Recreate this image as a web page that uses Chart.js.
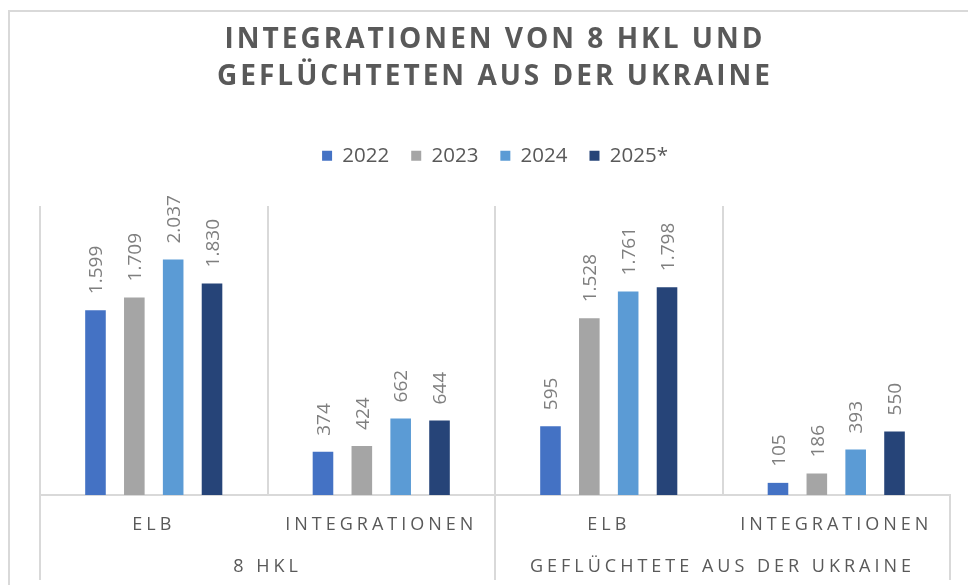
<!DOCTYPE html>
<html><head><meta charset="utf-8">
<script src="https://cdn.jsdelivr.net/npm/chart.js@4.4.1/dist/chart.umd.min.js"></script>
<style>html,body{margin:0;padding:0;background:#fff;} #wrap{width:968px;height:585px;position:relative;}</style>
</head><body><div id="wrap"><canvas id="c"></canvas></div>
<script>
const categories = ['ELB', 'INTEGRATIONEN', 'ELB', 'INTEGRATIONEN'];
const groups = ['8 HKL', 'GEFLÜCHTETE AUS DER UKRAINE'];
const seriesNames = ['2022', '2023', '2024', '2025*'];
const values2022 = [1599, 374, 595, 105];
const values2023 = [1709, 424, 1528, 186];
const values2024 = [2037, 662, 1761, 393];
const values2025 = [1830, 644, 1798, 550];
const titleLines = ['INTEGRATIONEN VON 8 HKL UND', 'GEFLÜCHTETEN AUS DER UKRAINE'];
const seriesColors = ['#4472C4', '#A5A5A5', '#5B9BD5', '#264478'];

const FONT = "'Open Sans', sans-serif";
const TEXT = '#595959';
const LINE = '#d9d9d9';
const fmt = new Intl.NumberFormat('de-DE');

const frame = {
  id: 'frame',
  beforeDraw(chart) {
    const ctx = chart.ctx;
    ctx.save();
    ctx.fillStyle = '#fff';
    ctx.fillRect(0, 0, chart.width, chart.height);
    ctx.strokeStyle = LINE; ctx.lineWidth = 2;
    ctx.beginPath();
    ctx.moveTo(9, chart.height); ctx.lineTo(9, 11); ctx.lineTo(chart.width, 11);
    ctx.stroke();
    ctx.restore();
  }
};

function withSpacing(obj, method, spacing) {
  if (!obj || obj['__sp_' + method]) return;
  const orig = obj[method];
  obj[method] = function () {
    const ctx = this.ctx || this.chart.ctx;
    const prev = ctx.letterSpacing;
    ctx.letterSpacing = spacing;
    try { return orig.apply(this, arguments); } finally { ctx.letterSpacing = prev || '0px'; }
  };
  obj['__sp_' + method] = true;
}

const spacing = {
  id: 'spacing',
  afterInit(chart) {
    const lg = chart.legend;
    if (lg && !lg.__fitPatched) {
      const of = lg.fit;
      lg.fit = function () { of.apply(this, arguments); this.height += 30; };
      lg.__fitPatched = true;
    }
  },
  beforeDraw(chart) {
    withSpacing(chart.titleBlock, 'draw', '3px');
    withSpacing(chart.scales.x, 'drawLabels', '4px');
    withSpacing(chart.scales.x2, 'drawLabels', '4px');
  }
};

const separators = {
  id: 'separators',
  afterDraw(chart) {
    const xs = chart.scales.x;
    const step = xs.getPixelForValue(1) - xs.getPixelForValue(0);
    const bounds = [xs.getPixelForValue(0) - step / 2, xs.getPixelForValue(1) + step / 2, xs.getPixelForValue(3) + step / 2];
    const ctx = chart.ctx;
    ctx.save();
    ctx.strokeStyle = LINE; ctx.lineWidth = 2;
    bounds.forEach(b => {
      ctx.beginPath();
      ctx.moveTo(b, chart.chartArea.bottom);
      ctx.lineTo(b, chart.height - 5);
      ctx.stroke();
    });
    ctx.restore();
  }
};

const dataLabels = {
  id: 'dataLabels',
  afterDatasetsDraw(chart) {
    const ctx = chart.ctx;
    const size = 19;
    ctx.save();
    ctx.font = size + "px " + FONT;
    ctx.fillStyle = '#7f7f7f';
    ctx.textAlign = 'left';
    ctx.textBaseline = 'alphabetic';
    chart.data.datasets.forEach((ds, di) => {
      chart.getDatasetMeta(di).data.forEach((bar, i) => {
        ctx.save();
        ctx.translate(bar.x, bar.y - 16);
        ctx.rotate(-Math.PI / 2);
        ctx.fillText(fmt.format(ds.data[i]), 0, size * 0.357);
        ctx.restore();
      });
    });
    ctx.restore();
  }
};

const seriesData = [values2022, values2023, values2024, values2025];

new Chart(document.getElementById('c'), {
  type: 'bar',
  data: {
    labels: categories,
    datasets: seriesNames.map((n, i) => ({
      label: n,
      data: seriesData[i],
      backgroundColor: seriesColors[i],
      borderWidth: 0,
      barPercentage: 0.53,
      categoryPercentage: 0.683
    }))
  },
  options: {
    responsive: true,
    maintainAspectRatio: false,
    animation: false,
    layout: { padding: { left: 40, right: 18, top: 0, bottom: 6 } },
    plugins: {
      tooltip: { enabled: false },
      title: {
        display: true,
        text: titleLines,
        color: TEXT,
        font: { family: FONT, size: 28, weight: 'bold', lineHeight: 37.5 / 28 },
        padding: { top: 21, bottom: 27.5 }
      },
      legend: {
        position: 'top',
        labels: {
          boxWidth: 10, boxHeight: 10, padding: 22,
          color: TEXT,
          font: { family: FONT, size: 20.5 }
        }
      }
    },
    scales: {
      y: { display: false, min: 0, max: 2500 },
      x: {
        weight: 0,
        offset: true,
        grid: {
          offset: true, drawTicks: false, lineWidth: 2,
          color: c => (c.type === 'tick' ? LINE : 'rgba(0,0,0,0)')
        },
        border: { display: true, color: LINE, width: 2 },
        ticks: { color: TEXT, font: { family: FONT, size: 18, lineHeight: 20 / 18 }, padding: 20, maxRotation: 0, autoSkip: false }
      },
      x2: {
        type: 'category',
        labels: groups,
        position: 'bottom',
        weight: 1,
        offset: true,
        grid: { display: false, drawTicks: false },
        border: { display: false },
        ticks: { color: TEXT, font: { family: FONT, size: 18, lineHeight: 20 / 18 }, padding: 2, maxRotation: 0, autoSkip: false }
      }
    }
  },
  plugins: [frame, spacing, separators, dataLabels]
});
</script>
</body></html>
